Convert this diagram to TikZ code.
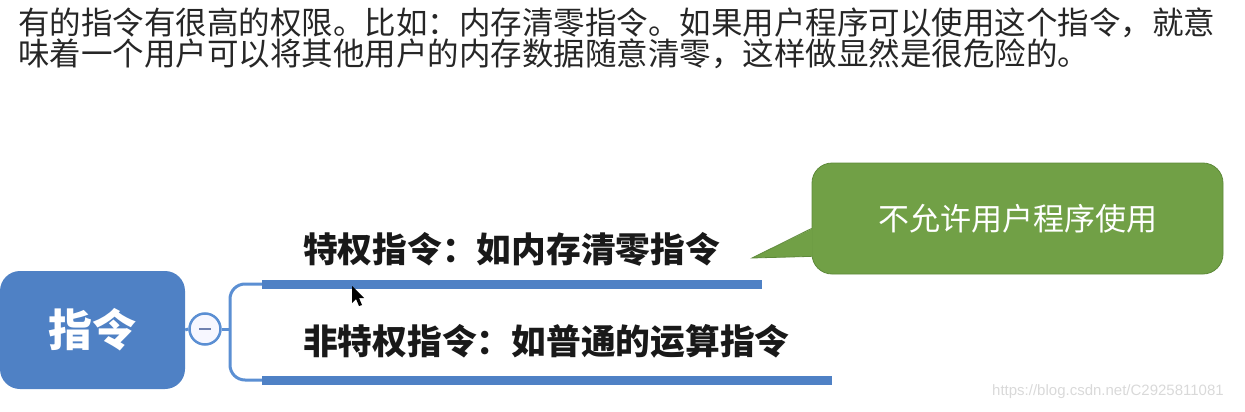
\documentclass[tikz,border=0pt]{standalone}
\usepackage{fontspec}
\usetikzlibrary{calc}
\newfontfamily\cjk{Noto Sans CJK SC}
\setsansfont{Liberation Sans}
\definecolor{boxblue}{HTML}{4F81C5}
\definecolor{connblue}{HTML}{5B8FD3}
\definecolor{calgreen}{HTML}{71A046}
\definecolor{calborder}{HTML}{5E8A3A}
\definecolor{minusgray}{HTML}{6F80B0}
\tikzset{
  toptext/.style={anchor=west, inner sep=0pt, font=\cjk\fontsize{31.5}{34}\selectfont, text=black!85},
  rootbox/.style={fill=boxblue, rounded corners=20pt, minimum width=185pt, minimum height=118pt, inner sep=0pt, text=white, font=\cjk\bfseries\fontsize{44}{48}\selectfont},
  collapser/.style={circle, draw=connblue, line width=2.5pt, fill=blue!3, minimum size=31pt, inner sep=0pt},
  conn/.style={draw=connblue, line width=3pt},
  bar/.style={draw=boxblue, line width=9pt},
  leaflabel/.style={anchor=west, inner sep=0pt, font=\cjk\bfseries\fontsize{34.75}{38}\selectfont, text=black!90},
  callout/.style={fill=calgreen, draw=calborder, line width=0.8pt, rounded corners=20pt, minimum width=411pt, minimum height=111pt, inner sep=0pt, text=white, font=\cjk\fontsize{31}{34}\selectfont},
  watermark/.style={anchor=west, inner sep=0pt, font=\sffamily\fontsize{15}{17}\selectfont, text=black!15}
}
\begin{document}
\begin{tikzpicture}[x=1pt,y=-1pt]
\useasboundingbox (0,0) rectangle (1245,412);
% top text
\node[toptext] (t1) at (18,23) {有的指令有很高的权限。比如：内存清零指令。如果用户程序可以使用这个指令，就意};
\node[toptext] (t2) at (18,54) {味着一个用户可以将其他用户的内存数据随意清零，这样做显然是很危险的。};
% root
\node[rootbox] (root) at (92.5,330) {指令};
\node[collapser] (col) at (205,329) {};
\draw[draw=minusgray, line width=2pt] ($(col.center)+(-6,0)$) -- ($(col.center)+(6,0)$);
\draw[conn] (root.east) -- (col.west);
% branches
\coordinate (jct) at (230,329);
\coordinate (b1s) at (262,284);
\coordinate (b1e) at (762,284);
\coordinate (b2s) at (262,380);
\coordinate (b2e) at (832,380);
\draw[conn] (col.east) -- (jct);
\draw[conn, rounded corners=15pt] (b1s) -| (jct) |- (b2s);
\draw[bar] (b1s) -- (b1e);
\draw[bar] (b2s) -- (b2e);
\node[leaflabel] (l1) at (303,249) {特权指令：如内存清零指令};
\node[leaflabel] (l2) at (303,341) {非特权指令：如普通的运算指令};
% callout
\node[callout] (cal) at (1017.5,218.5) {不允许用户程序使用};
\coordinate (tip) at (752,258);
\fill[calgreen] ($(cal.south west)+(1,-18)$) -- (tip) -- ($(cal.south west)+(1,-46)$) -- cycle;
\draw[calborder, line width=0.8pt] ($(cal.south west)+(0,-18)$) -- (tip) -- ($(cal.south west)+(0,-46)$);
% cursor
\fill[black] (352,286) -- (352,303) -- (356,299) -- (359,306) -- (362,305) -- (359,298) -- (364,298) -- cycle;
% watermark
\node[watermark] (wm) at (992,392) {https://blog.csdn.net/C2925811081};
\end{tikzpicture}
\end{document}
